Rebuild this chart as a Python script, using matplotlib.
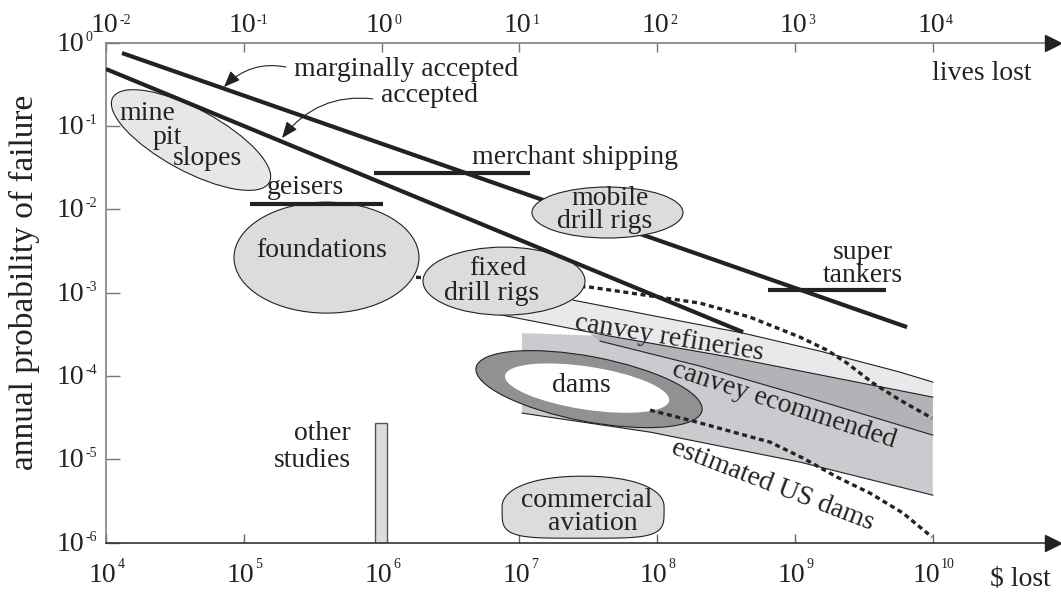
import numpy as np
import matplotlib.pyplot as plt
import matplotlib.transforms as mtransforms
from matplotlib.patches import Ellipse, PathPatch
from matplotlib.path import Path
from matplotlib.ticker import NullLocator

plt.rcParams['font.family'] = ['Liberation Serif', 'DejaVu Serif']
plt.rcParams['font.size'] = 20

INK = '#222222'

# tick exponents
usd_exps = [4, 5, 6, 7, 8, 9, 10]
lives_exps = [-2, -1, 0, 1, 2, 3, 4]
prob_exps = [0, -1, -2, -3, -4, -5, -6]

# everything below is log10($ lost), log10(annual probability)
marginal_x = [4.116, 9.813]
marginal_y = [-0.124, -3.413]
accepted_x = [4.0, 8.623]
accepted_y = [-0.316, -3.473]

bar_x0 = [5.945, 5.045, 8.804]     # merchant shipping, geisers, super tankers
bar_x1 = [7.077, 6.010, 9.660]
bar_y = [-1.564, -1.936, -2.969]

upper_dot_x = [6.061, 6.228, 7.512, 8.311, 8.673, 9.036, 9.232, 9.377, 9.566, 9.762, 9.994]
upper_dot_y = [-2.801, -2.813, -2.933, -3.125, -3.293, -3.533, -3.689, -3.845, -4.085, -4.289, -4.505]
usdams_x = [7.948, 8.289, 8.579, 8.819, 9.058, 9.305, 9.544, 9.784, 9.994]
usdams_y = [-4.409, -4.553, -4.685, -4.793, -4.985, -5.213, -5.405, -5.645, -5.933]

# canvey refineries band
refin_top_x = [6.787, 7.389, 7.948, 8.623, 9.181, 9.762, 10.0]
refin_top_y = [-3.089, -3.089, -3.269, -3.485, -3.701, -3.953, -4.073]
refin_bot_x = [6.837, 7.657, 8.528, 10.0]
refin_bot_y = [-3.257, -3.521, -3.773, -4.253]
# canvey recommended band
recom_top_x = [7.019, 7.657, 8.528, 10.0]
recom_top_y = [-3.485, -3.521, -3.773, -4.253]
recom_bot_x = [7.019, 7.948, 9.036, 10.0]
recom_bot_y = [-4.445, -4.673, -5.033, -5.430]
# darker strip inside it
strip_bot_x = [7.512, 7.585, 8.311, 9.036, 10.0]
strip_bot_y = [-3.497, -3.581, -3.881, -4.229, -4.709]

blob_x = [4.617, 5.600, 6.888, 7.639]     # mine pit, foundations, fixed rigs, mobile rigs
blob_y = [-1.168, -2.579, -2.861, -2.038]
dams_x, dams_y = 7.505, -4.157
aviation_x, aviation_y = 7.462, -5.574
other_x0, other_x1, other_top = 5.952, 6.039, -4.565

P = lambda v: 10.0 ** np.asarray(v, dtype=float)

fig = plt.figure(figsize=(10.61, 5.93), dpi=100)
ax = fig.add_axes([106 / 1061, 1 - 542.7 / 593, (1053 - 106) / 1061, 500 / 593])
ax.set_xscale('log')
ax.set_yscale('log')


def at(lx, ly):
    # sizes in inches, centred on a data point
    return fig.dpi_scale_trans + mtransforms.ScaledTranslation(10 ** lx, 10 ** ly, ax.transData)


# bands
ax.fill(P(refin_top_x + refin_bot_x[::-1]), P(refin_top_y + refin_bot_y[::-1]),
        color='#e8e9eb', lw=0, zorder=1)
ax.fill(P(recom_top_x + [10.0] + recom_bot_x[::-1]), P(recom_top_y + [-5.43] + recom_bot_y[::-1]),
        color='#cbcbcf', lw=0, zorder=1.1)
ax.fill(P(refin_bot_x[1:] + strip_bot_x[::-1]), P(refin_bot_y[1:] + strip_bot_y[::-1]),
        color='#b3b3b7', lw=0, zorder=1.2)
for xs, ys in [(refin_top_x[1:], refin_top_y[1:]), (refin_bot_x, refin_bot_y),
               (strip_bot_x[1:], strip_bot_y[1:]), (recom_bot_x, recom_bot_y)]:
    ax.plot(P(xs), P(ys), color=INK, lw=0.8, zorder=1.5)

# upper dotted curve (partly hidden by the ellipses)
ax.plot(P(upper_dot_x), P(upper_dot_y), color=INK, lw=2.4, ls=(0, (1.5, 1.1)), zorder=1.8)

# ellipses
blob_w = [178, 185, 162, 151]
blob_h = [62, 111, 68, 51]
blob_a = [-28.4, 0, 0, 0]
blob_fc = ['#e6e7e9', '#dcdcdc', '#dcdcdc', '#dcdcdc']
blob_z = [2, 2, 2, 4]
for i in range(4):
    ax.add_patch(Ellipse((0, 0), blob_w[i] / 100, blob_h[i] / 100, angle=blob_a[i],
                         transform=at(blob_x[i], blob_y[i]), fc=blob_fc[i], ec=INK,
                         lw=0.8, zorder=blob_z[i]))

# dams ring
ax.add_patch(Ellipse((0, 0), 2.30, 0.65, angle=-10.8, transform=at(dams_x, dams_y),
                     fc='#8f9193', ec=INK, lw=0.8, zorder=2))
ax.add_patch(Ellipse((0, 0), 1.66, 0.43, angle=-8.7, transform=at(dams_x - 0.014, dams_y + 0.012),
                     fc='white', ec='none', zorder=2.1))

# commercial aviation blob: domed top, flat bottom
t = np.linspace(0, 2 * np.pi, 300)
c, s = np.cos(t), np.sin(t)
ex = np.where(s >= 0, 2 / 2.2, 2 / 4.5)
verts = np.column_stack([0.81 * np.sign(c) * np.abs(c) ** ex, 0.31 * np.sign(s) * np.abs(s) ** ex])
ax.add_patch(PathPatch(Path(verts, closed=True), transform=at(aviation_x, aviation_y),
                       fc='#dcdcdc', ec=INK, lw=0.8, zorder=2))

# other studies
ax.bar(P(other_x0), P(other_top) - 1e-6, width=P(other_x1) - P(other_x0), bottom=1e-6,
       align='edge', color='#dcdcdc', edgecolor='#555555', lw=1, zorder=2)

# criteria lines
ax.plot(P(marginal_x), P(marginal_y), color=INK, lw=3, solid_capstyle='butt', zorder=3)
ax.plot(P(accepted_x), P(accepted_y), color=INK, lw=3, solid_capstyle='butt', zorder=3)
for x0, x1, y in zip(bar_x0, bar_x1, bar_y):
    ax.plot(P([x0, x1]), P([y, y]), color=INK, lw=3, solid_capstyle='butt', zorder=3)

ax.plot(P(usdams_x), P(usdams_y), color=INK, lw=2.4, ls=(0, (1.5, 1.1)), zorder=3)

# labels
label_text = ['mine', 'pit', 'slopes', 'geisers', 'foundations', 'fixed', 'drill rigs',
              'mobile', 'drill rigs', 'merchant shipping', 'super', 'tankers', 'dams',
              'commercial', 'aviation']
label_x = [4.298, 4.443, 4.733, 5.444, 5.567, 6.845, 6.801, 7.657, 7.621, 7.403,
           9.493, 9.493, 7.447, 7.491, 7.534]
label_y = [-0.844, -1.132, -1.384, -1.732, -2.489, -2.705, -3.005, -1.870, -2.140, -1.372,
           -2.513, -2.789, -4.109, -5.490, -5.766]
for txt, x, y in zip(label_text, label_x, label_y):
    ax.text(10 ** x, 10 ** y, txt, ha='center', va='center', color=INK, zorder=5)

ax.text(10 ** 5.778, 10 ** -4.685, 'other', ha='right', va='center', color=INK, zorder=5)
ax.text(10 ** 5.778, 10 ** -5.010, 'studies', ha='right', va='center', color=INK, zorder=5)

rot_text = ['canvey refineries', 'canvey ecommended', 'estimated US dams']
rot_x = [8.086, 8.920, 8.840]
rot_y = [-3.545, -4.349, -5.310]
rot_a = [-9.3, -18, -21]
for txt, x, y, a in zip(rot_text, rot_x, rot_y, rot_a):
    ax.text(10 ** x, 10 ** y, txt, ha='center', va='center', rotation=a,
            rotation_mode='anchor', color=INK, zorder=5)

arrow = dict(arrowstyle='-|>,head_length=0.5,head_width=0.2', connectionstyle='arc3,rad=0.3',
             color=INK, lw=0.8, shrinkA=4, shrinkB=0, relpos=(0, 0.5))
ax.annotate('marginally accepted', xy=(10 ** 4.856, 10 ** -0.532), xytext=(10 ** 5.364, 10 ** -0.316),
            ha='left', va='center', color=INK, arrowprops=arrow, zorder=5)
ax.annotate('accepted', xy=(10 ** 5.277, 10 ** -1.144), xytext=(10 ** 5.996, 10 ** -0.628),
            ha='left', va='center', color=INK, arrowprops=dict(arrow, relpos=(0, 0.3)), zorder=5)

# axes
ax.set_xlim(1e4, 10 ** 10.872)
ax.set_ylim(1e-6, 1)
ax.set_xticks(P(usd_exps))
ax.set_yticks(P(prob_exps))
ax.xaxis.set_minor_locator(NullLocator())
ax.yaxis.set_minor_locator(NullLocator())
ax.tick_params(axis='x', direction='in', length=6.5, width=1, color='#666666', labelbottom=False)
ax.tick_params(axis='y', direction='in', length=10, width=1, color='#777777', labelleft=False)
ax.spines['right'].set_visible(False)
ax.spines['top'].set_visible(False)
ax.spines['left'].set_color('#808080')
ax.spines['bottom'].set_color('#333333')
ax.spines['left'].set_linewidth(1.2)
ax.spines['bottom'].set_linewidth(1.2)

sec = ax.secondary_xaxis('top', functions=(lambda v: v / 1e6, lambda v: v * 1e6))
sec.set_xticks(P(lives_exps))
sec.xaxis.set_minor_locator(NullLocator())
sec.tick_params(direction='in', length=6.5, width=1, color='#777777', labeltop=False)
sec.spines['top'].set_color('#808080')
sec.spines['top'].set_linewidth(1.2)

for yy in (0, 1):
    ax.plot([1], [yy], marker='>', ms=11, color=INK, transform=ax.transAxes, clip_on=False, zorder=6)

# tick labels: "10" plus small exponent
xt = ax.get_xaxis_transform()
yt = ax.get_yaxis_transform()
for k in usd_exps:
    off = (28 - 7 * len(str(k))) / 2
    ax.annotate('10', xy=(10.0 ** k, 0), xycoords=xt, xytext=(off, -39.5), textcoords='offset pixels',
                ha='right', va='baseline', color=INK, annotation_clip=False)
    ax.annotate(str(k), xy=(10.0 ** k, 0), xycoords=xt, xytext=(off + 1, -25), textcoords='offset pixels',
                ha='left', va='baseline', fontsize=10, color=INK, annotation_clip=False)
for k in lives_exps:
    ax.annotate('10', xy=(10.0 ** (k + 6), 1), xycoords=xt, xytext=(12, 10.7), textcoords='offset pixels',
                ha='right', va='baseline', color=INK, annotation_clip=False)
    ax.annotate(str(k), xy=(10.0 ** (k + 6), 1), xycoords=xt, xytext=(13, 19), textcoords='offset pixels',
                ha='left', va='baseline', fontsize=10, color=INK, annotation_clip=False)
for k in prob_exps:
    ax.annotate('10', xy=(0, 10.0 ** k), xycoords=yt, xytext=(-22, -8), textcoords='offset pixels',
                ha='right', va='baseline', color=INK, annotation_clip=False)
    ax.annotate(str(k), xy=(0, 10.0 ** k), xycoords=yt, xytext=(-21, 2), textcoords='offset pixels',
                ha='left', va='baseline', fontsize=10, color=INK, annotation_clip=False)

fig.text(24 / 1061, 1 - 282 / 593, 'annual probability of failure', rotation=90,
         ha='center', va='center', fontsize=24, color=INK)
fig.text(982 / 1061, 1 - 73 / 593, 'lives lost', ha='center', va='center', color=INK)
fig.text(1020 / 1061, 1 - 580 / 593, '$ lost', ha='center', va='center', color=INK)

fig.savefig('out.png', dpi=100)
